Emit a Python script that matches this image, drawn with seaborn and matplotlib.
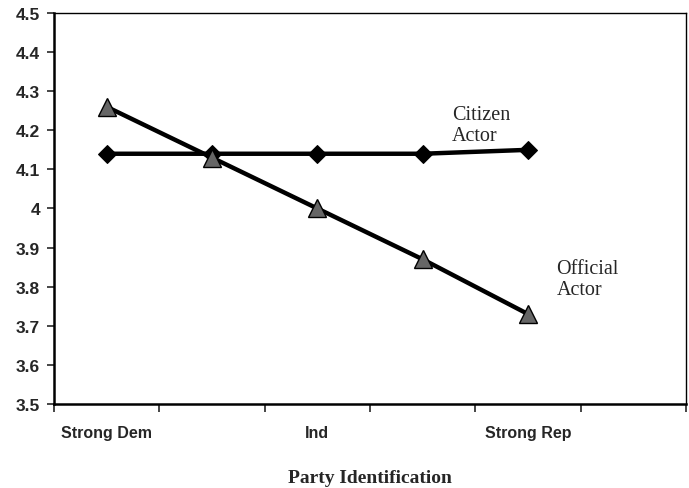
import pandas as pd
import matplotlib
matplotlib.use("Agg")
import matplotlib.pyplot as plt
import seaborn as sns

# data
categories = ["Strong Dem", "", "Ind", "", "Strong Rep"]
citizen = [4.14, 4.14, 4.14, 4.14, 4.15]
official = [4.26, 4.13, 4.00, 3.87, 3.73]
y_ticks = [3.5, 3.6, 3.7, 3.8, 3.9, 4.0, 4.1, 4.2, 4.3, 4.4, 4.5]
y_labels = ["3.5", "3.6", "3.7", "3.8", "3.9", "4", "4.1", "4.2", "4.3", "4.4", "4.5"]

pos = [i + 0.5 for i in range(len(categories))]
df = pd.DataFrame({"pos": pos, "citizen": citizen, "official": official})

sns.set_style("ticks")
plt.rcParams["font.family"] = ["Liberation Sans", "DejaVu Sans"]

fig = plt.figure(figsize=(6.89, 4.89), dpi=100)
ax = fig.add_axes([0.0784, 0.1718, 0.9172, 0.7996])

sns.lineplot(data=df, x="pos", y="citizen", ax=ax, color="black", linewidth=3.2,
             marker="D", markersize=9, markerfacecolor="black", markeredgecolor="black")
sns.lineplot(data=df, x="pos", y="official", ax=ax, color="black", linewidth=3.2,
             marker="^", markersize=13, markerfacecolor="#666666", markeredgecolor="black",
             markeredgewidth=1)

ax.set_xlim(0, 6)
ax.set_ylim(3.5, 4.5)
ax.set_xticks(range(7))
ax.set_xticklabels([])
ax.set_xticks(pos, minor=True)
ax.set_xticklabels(categories, minor=True, fontweight="bold", fontsize=11.5)
ax.tick_params(axis="x", which="minor", length=0, pad=15)
ax.tick_params(axis="x", which="major", length=6, width=1.2, direction="out")
ax.set_yticks(y_ticks)
ax.set_yticklabels(y_labels, fontweight="bold", fontsize=12.5)
ax.tick_params(axis="y", length=5, width=1.2, direction="out", pad=5)

for s in ax.spines.values():
    s.set_visible(True)
    s.set_color("black")
ax.spines["left"].set_linewidth(1.8)
ax.spines["bottom"].set_linewidth(1.8)
ax.spines["top"].set_linewidth(1.0)
ax.spines["right"].set_linewidth(1.0)

ax.set_xlabel("Party Identification", family=["Liberation Serif", "DejaVu Serif"],
              fontweight="bold", fontsize=14, labelpad=21)
ax.set_ylabel("")

ax.text(3.78, 4.213, "Citizen\nActor", family=["Liberation Serif", "DejaVu Serif"],
        fontsize=14.5, va="center", ha="left", linespacing=1.15)
ax.text(4.77, 3.82, "Official\nActor", family=["Liberation Serif", "DejaVu Serif"],
        fontsize=14.5, va="center", ha="left", linespacing=1.15)

fig.savefig("out.png", dpi=100)
